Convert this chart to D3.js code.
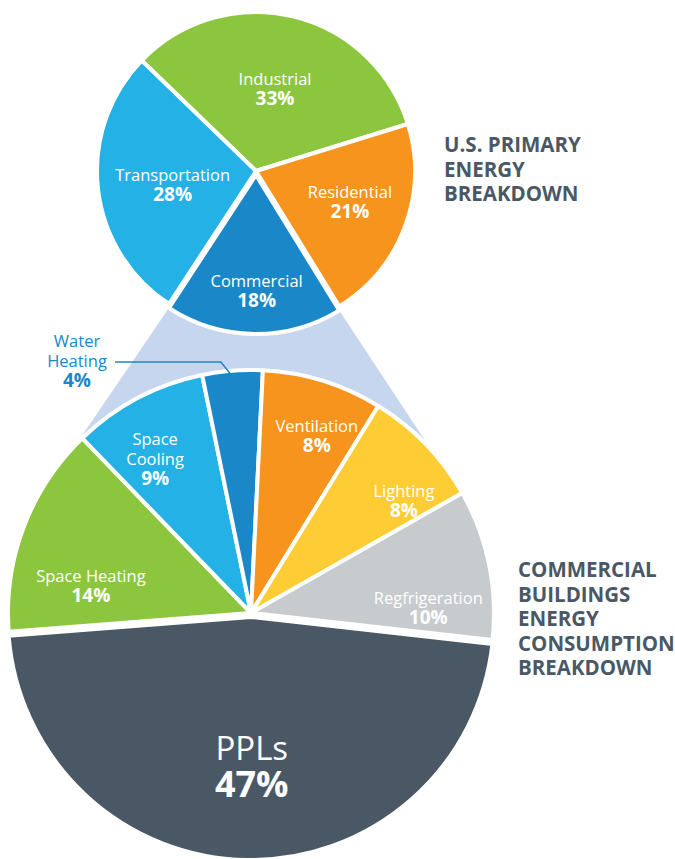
<!DOCTYPE html>
<html>
<head>
<meta charset="utf-8">
<script src="https://cdn.jsdelivr.net/npm/d3@7"></script>
<style>
  body { margin: 0; background: #fff; }
  svg { display: block; font-family: "Open Sans", sans-serif; }
</style>
</head>
<body>
<div id="chart"></div>
<script>
// U.S. primary energy, share by sector (%)
const usSectors = ["Industrial", "Residential", "Commercial", "Transportation"];
const usShares = [33, 21, 18, 28];

// commercial buildings energy consumption, share by end use (%)
const bldgUses = ["Space Heating", "Space Cooling", "Water Heating", "Ventilation", "Lighting", "Regfrigeration", "PPLs"];
const bldgShares = [14, 9, 4, 8, 8, 10, 47];

const width = 675, height = 859;
const deg = Math.PI / 180;

const upperPie = {cx: 256, cy: 171, r: 159, start: -46, explode: "Commercial"};
const lowerPie = {cx: 251, cy: 613, r: 243, start: -94.4, explode: "PPLs"};

const usColor = d3.scaleOrdinal()
    .domain(usSectors)
    .range(["#8cc63f", "#f7941d", "#1a87c8", "#24b1e5"]);
const bldgColor = d3.scaleOrdinal()
    .domain(bldgUses)
    .range(["#8cc63f", "#24b1e5", "#1a87c8", "#f7941d", "#fecd36", "#c8cbce", "#4a5866"]);

// label tweaks so text sits where the designer put it
const nudge = {
    "Industrial": [-3, 16], "Residential": [5, 4], "Commercial": [2, 27], "Transportation": [11, 9],
    "Space Heating": [10, 44], "Space Cooling": [-11, 12.5], "Ventilation": [12, 3],
    "Lighting": [22, 20], "Regfrigeration": [-1, 37.6], "PPLs": [4, -20.5]
};
const wrapped = ["Space Cooling", "Water Heating"];

const svg = d3.select("#chart")
  .append("svg")
    .attr("width", width)
    .attr("height", height);

function slices(names, values, startDeg) {
    const pie = d3.pie()
        .sort(null)
        .value(d => d.value)
        .startAngle(startDeg * deg)
        .endAngle(startDeg * deg + 2 * Math.PI);
    return pie(names.map((n, i) => ({name: n, value: values[i]})));
}

function offsetOf(p, d) {
    if (d.data.name !== p.explode) return [0, 0];
    const mid = (d.startAngle + d.endAngle) / 2;
    return [4 * Math.sin(mid), -4 * Math.cos(mid)];
}

function polar(p, r, a) {
    return [p.cx + r * Math.sin(a), p.cy - r * Math.cos(a)];
}

const usArcs = slices(usSectors, usShares, upperPie.start);
const bldgArcs = slices(bldgUses, bldgShares, lowerPie.start);

// the light band that ties Commercial to the breakdown below
const comm = usArcs.find(d => d.data.name === "Commercial");
const co = offsetOf(upperPie, comm);
const lt = polar(upperPie, upperPie.r, comm.endAngle), rt = polar(upperPie, upperPie.r, comm.startAngle);
svg.append("polygon")
    .attr("points", [
        [lt[0] + co[0], lt[1] + co[1]],
        [rt[0] + co[0], rt[1] + co[1]],
        polar(lowerPie, lowerPie.r, 48 * deg),
        [lowerPie.cx, lowerPie.cy],
        polar(lowerPie, lowerPie.r, -46 * deg)
    ].map(q => q.join(",")).join(" "))
    .attr("fill", "#c6d6ee");

function drawPie(p, arcs, color, labelR) {
    const g = svg.append("g")
        .attr("transform", `translate(${p.cx}, ${p.cy})`);
    const arc = d3.arc().innerRadius(0).outerRadius(p.r);
    const labelArc = d3.arc().innerRadius(labelR).outerRadius(labelR);

    g.selectAll("path")
      .data(arcs)
      .join("path")
        .attr("d", arc)
        .attr("transform", d => `translate(${offsetOf(p, d)})`)
        .attr("fill", d => color(d.data.name))
        .attr("stroke", "#fff")
        .attr("stroke-width", 4)
        .attr("stroke-linejoin", "round");

    arcs.forEach(d => {
        const name = d.data.name;
        if (!nudge[name]) return;
        const c = labelArc.centroid(d);
        const o = offsetOf(p, d);
        const x = c[0] + o[0] + nudge[name][0];
        const y = c[1] + o[1] + nudge[name][1];
        const big = name === "PPLs";
        const lines = (wrapped.includes(name) ? name.split(" ") : [name]).map(t => ({t: t, bold: false}));
        lines.push({t: d.data.value + "%", bold: true});
        const lh = big ? 37 : 20;
        const t = g.append("text")
            .attr("text-anchor", "middle")
            .attr("fill", "#fff");
        lines.forEach((l, i) => {
            t.append("tspan")
                .attr("x", x)
                .attr("y", y + (i - (lines.length - 1) / 2) * lh)
                .attr("font-size", big ? (l.bold ? 36 : 33) : (l.bold ? 19 : 16.5))
                .attr("font-weight", l.bold ? 700 : 400)
                .text(l.t);
        });
    });
}

drawPie(upperPie, usArcs, usColor, 95);
drawPie(lowerPie, bldgArcs, bldgColor, 182);

// Water Heating is too thin for its label, so it goes outside with a leader
const wh = bldgArcs.find(d => d.data.name === "Water Heating");
const whEnd = polar(lowerPie, lowerPie.r * 0.975, (wh.startAngle + wh.endAngle) / 2);
svg.append("polyline")
    .attr("points", [[115, 362], [whEnd[0] - 12, 362], whEnd].map(q => q.join(",")).join(" "))
    .attr("fill", "none")
    .attr("stroke", "#1a87c8")
    .attr("stroke-width", 1.5);
const whText = svg.append("text")
    .attr("text-anchor", "middle")
    .attr("fill", "#1a87c8");
["Water", "Heating", wh.data.value + "%"].forEach((s, i) => {
    whText.append("tspan")
        .attr("x", 77)
        .attr("y", 347 + i * 20)
        .attr("font-size", i === 2 ? 19 : 16.5)
        .attr("font-weight", i === 2 ? 700 : 400)
        .text(s);
});

// titles
function title(x, y, lines) {
    const t = svg.append("text")
        .attr("fill", "#4a5866")
        .attr("font-size", 20.5)
        .attr("font-weight", 700);
    lines.forEach((s, i) => {
        t.append("tspan").attr("x", x).attr("y", y + i * 24.5).text(s);
    });
}
title(444, 152, ["U.S. PRIMARY", "ENERGY", "BREAKDOWN"]);
title(518, 577, ["COMMERCIAL", "BUILDINGS", "ENERGY", "CONSUMPTION", "BREAKDOWN"]);
</script>
</body>
</html>
